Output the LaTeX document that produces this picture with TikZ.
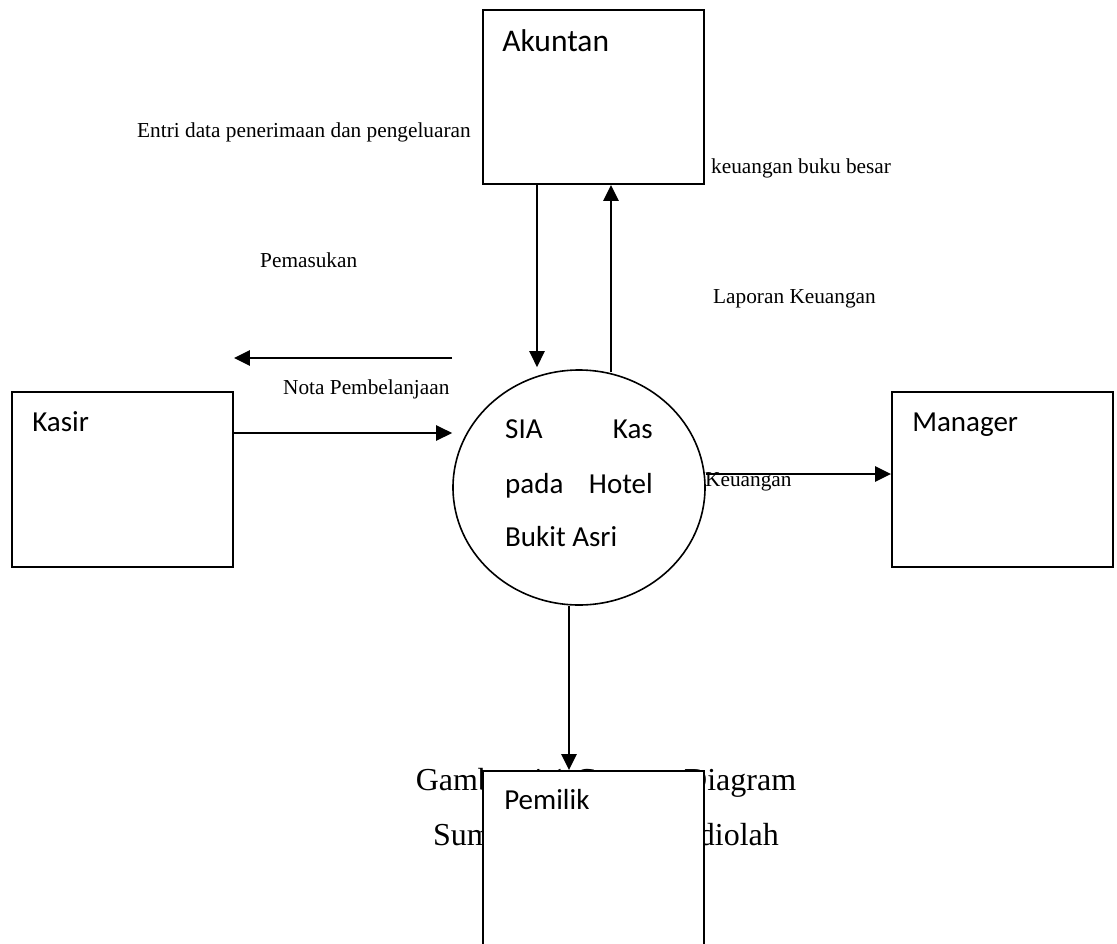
\documentclass[tikz,border=0pt]{standalone}
\usepackage{fontspec}
\setmainfont{Liberation Serif}
\newfontfamily\boxfont{Carlito}
\usetikzlibrary{positioning}
\usetikzlibrary{shapes.geometric}
\usetikzlibrary{arrows.meta}

\tikzset{
 entity/.style={draw,line width=1.8pt,fill=white,minimum width=221pt,minimum height=175pt,inner sep=0pt},
 proses/.style={draw,ellipse,line width=1.6pt,minimum width=252pt,minimum height=235pt,inner sep=0pt},
 flow/.style={line width=2.4pt,-{Triangle[length=16pt,width=15pt]}},
 lbl/.style={anchor=base west,inner sep=0pt,font=\fontsize{21.3}{25}\selectfont},
 nama/.style={anchor=base west,inner sep=0pt,font=\boxfont\fontsize{29}{34}\selectfont},
 caption/.style={anchor=base,inner sep=0pt,font=\fontsize{32}{38}\selectfont},
}

\begin{document}
\begin{tikzpicture}[x=1pt,y=-1pt]
 \useasboundingbox (0,0) rectangle (1117,943);
 \clip (0,0) rectangle (1117,943);
 % keterangan gambar, sebagian tertutup kotak Pemilik
 \node[caption] (cap1) at (606,790) {Gambar 4.1 Context Diagram};
 \node[caption] (cap2) at (606,845) {Sumber : Data yang diolah};
 % entitas luar
 \node[entity,minimum height=174pt] (akuntan) at (593.5,97) {};
 \node[entity] (kasir) at (122.5,479.5) {};
 \node[entity] (manager) at (1002.5,479.5) {};
 \node[entity,minimum height=190pt] (pemilik) at (593.5,866) {};
 \node[nama,font=\boxfont\fontsize{31.5}{36}\selectfont] (tAkuntan) at ([xshift=20pt,yshift=-42pt]akuntan.north west) {Akuntan};
 \node[nama] (tKasir) at ([xshift=21pt,yshift=-40pt]kasir.north west) {Kasir};
 \node[nama] (tManager) at ([xshift=21pt,yshift=-40pt]manager.north west) {Manager};
 \node[nama] (tPemilik) at ([xshift=22pt,yshift=-39pt]pemilik.north west) {Pemilik};
 % proses
 \node[proses] (sia) at (579,487.5) {};
 \node[nama] (s1) at (505,438) {SIA};
 \node[nama,anchor=base east] (s2) at (653,438) {Kas};
 \node[nama] (s3) at (505,493) {pada};
 \node[nama,anchor=base east] (s4) at (653,493) {Hotel};
 \node[nama] (s5) at (505,546) {Bukit Asri};
 % aliran data
 \draw[flow] ([xshift=-56.5pt]akuntan.south) -- ([xshift=-42pt,yshift=2pt]sia.north);
 \draw[flow] ([xshift=32pt,yshift=-3pt]sia.north) -- ([xshift=17.5pt]akuntan.south);
 \draw[flow] ([yshift=129.5pt]sia.west) -- ([yshift=121.5pt]kasir.east);
 \draw[flow] ([yshift=46.5pt]kasir.east) -- ([yshift=54.5pt]sia.west);
 \draw[flow] ([yshift=13.5pt]sia.east) -- ([yshift=5.5pt]manager.west);
 \draw[flow] ([xshift=-10pt]sia.south) -- ([xshift=-24.5pt]pemilik.north);
 % label aliran
 \node[lbl] (l1) at (137,137) {Entri data penerimaan dan pengeluaran};
 \node[lbl] (l2) at (711,173) {keuangan buku besar};
 \node[lbl] (l3) at (260,267) {Pemasukan};
 \node[lbl] (l4) at (713,303) {Laporan Keuangan};
 \node[lbl] (l5) at (283,394) {Nota Pembelanjaan};
 \node[lbl] (l6) at (705,486) {Keuangan};
\end{tikzpicture}
\end{document}
